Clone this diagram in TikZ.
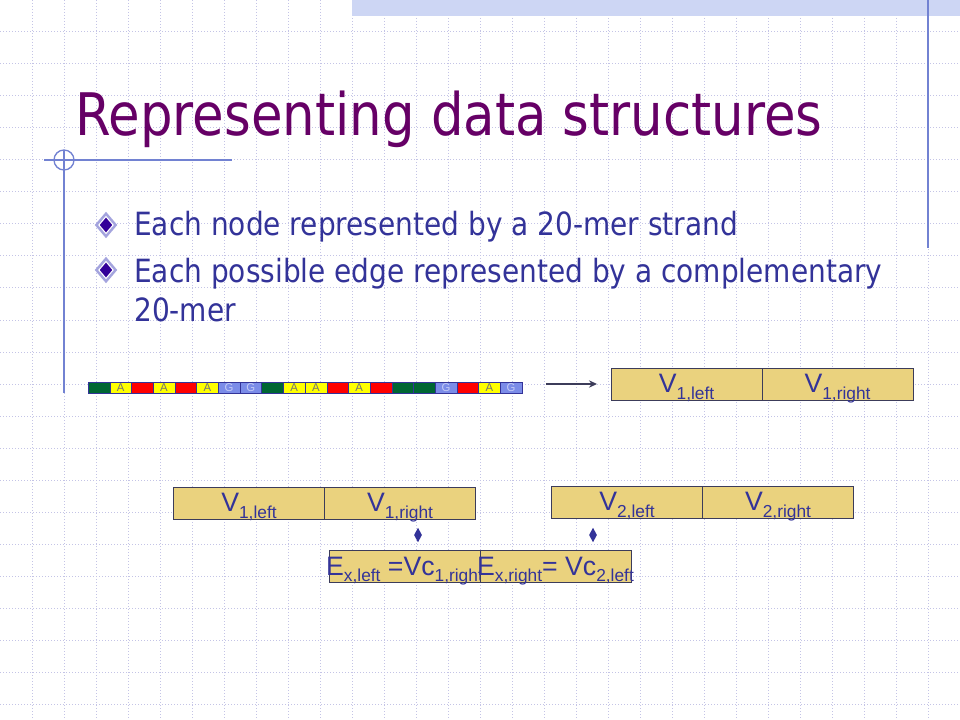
\documentclass[tikz,border=0pt]{standalone}
\usepackage{fontspec}
\setmainfont{Liberation Sans}
\newfontfamily\slidefont[FakeStretch=0.875]{DejaVu Sans}
\usepackage{tikz}
\usetikzlibrary{shapes.geometric, arrows.meta, positioning}

\definecolor{titlepurple}{HTML}{660066}
\definecolor{bodyblue}{HTML}{333399}
\definecolor{bulletblue}{HTML}{330099}
\definecolor{bulletrim}{HTML}{A4A4DE}
\definecolor{gridlav}{HTML}{C4C4E6}
\definecolor{bandblue}{HTML}{CDD6F4}
\definecolor{ruleblue}{HTML}{7282D2}
\definecolor{boxfill}{HTML}{EAD27E}
\definecolor{boxline}{HTML}{3C3C5A}
\definecolor{nucgreen}{HTML}{006633}
\definecolor{nucyellow}{HTML}{FFFF00}
\definecolor{nucred}{HTML}{FF0000}
\definecolor{nucblue}{HTML}{7B8CE8}

\newcommand\idx[1]{\raisebox{-5pt}{\fontsize{13pt}{13pt}\selectfont #1}}

\begin{document}
\begin{tikzpicture}[x=0.75pt, y=-0.75pt,
    gridline/.style={draw=gridlav, line width=0.75pt, dash pattern=on 0.75pt off 1.5pt},
    rule/.style={draw=ruleblue, line width=1pt},
    titletext/.style={inner sep=0, text=titlepurple, font=\slidefont\fontsize{44pt}{48pt}\selectfont},
    bodytext/.style={inner sep=0, text=bodyblue, font=\slidefont\fontsize{24pt}{29pt}\selectfont},
    bulletrim/.style={diamond, fill=bulletrim, inner sep=0, minimum width=17pt, minimum height=20pt},
    bulletcore/.style={diamond, fill=bulletblue, draw=white, line width=0.8pt, inner sep=0,
        minimum width=11pt, minimum height=13pt},
    nuc/.style={rectangle, minimum width=16.275pt, minimum height=8.25pt, inner sep=0, outer sep=0,
        draw=bodyblue, line width=0.3pt, font=\fontsize{8.5pt}{8.5pt}\selectfont},
    nucT/.style={fill=nucgreen},
    nucA/.style={fill=nucyellow, text=black!55},
    nucC/.style={fill=nucred},
    nucG/.style={fill=nucblue, text=nucblue!45},
    cell/.style={rectangle, minimum width=113.25pt, minimum height=24pt, inner sep=0, outer sep=0,
        text height=18.5pt, text depth=5.5pt, fill=boxfill, draw=boxline, line width=0.75pt,
        text=bodyblue, font=\fontsize{20pt}{24pt}\selectfont},
    linkmark/.style={diamond, fill=bodyblue, inner sep=0, minimum width=6pt, minimum height=11pt},
    strandarrow/.style={draw=boxline, line width=1.1pt, -{Stealth[length=6pt, width=5.5pt]},
        shorten <=18pt, shorten >=10.5pt}]
    \useasboundingbox (0,0) rectangle (960,720);
    \fill[white] (0,0) rectangle (960,720);
    % background grid
    \foreach \g in {32,64,...,928}
        \draw[gridline] (\g,0) -- (\g,720);
    \foreach \g in {32,64,...,704}
        \draw[gridline] (0,\g) -- (960,\g);
    \fill[bandblue] (352,0) rectangle (960,16);
    \draw[rule] (928,0) -- (928,248);
    \draw[rule] (44,160) -- (232,160);
    \draw[rule] (64,160) circle[radius=10];
    \draw[rule] (64,150) -- (64,393);

    \node[titletext, anchor=base west] (title) at (75,136) {Representing data structures};
    \node[bulletrim] (dot1) at (106,225) {};
    \node[bulletcore] at (dot1) {};
    \node[bodytext, anchor=base west] (item1) at (134,236) {Each node represented by a 20-mer strand};
    \node[bulletrim] (dot2) at (106,270) {};
    \node[bulletcore] at (dot2) {};
    \node[bodytext, anchor=base west] (item2) at (134,282) {Each possible edge represented by a complementary};
    \node[bodytext, anchor=base west] (item2b) at (134,321) {20-mer};

    % the 20-mer strand
    \foreach \nb/\lbl [count=\i from 0] in {T/{},A/A,C/{},A/A,C/{},A/A,G/G,G/G,T/{},A/A,
                                           A/A,C/{},A/A,C/{},T/{},T/{},G/G,C/{},A/A,G/G}
        \node[nuc, nuc\nb] (s\i) at ({98.85+21.7*\i},387.5) {\lbl};

    \node[cell] (v1L) at (686.5,384) {V\idx{1,left}};
    \node[cell, right=0pt of v1L] (v1R) {V\idx{1,right}};
    \draw[strandarrow] (s19.east |- v1L.west) -- (v1L.west);

    \node[cell] (a1L) at (249,503) {V\idx{1,left}};
    \node[cell, right=0pt of a1L] (a1R) {V\idx{1,right}};
    \node[cell] (v2L) at (627,502) {V\idx{2,left}};
    \node[cell, right=0pt of v2L] (v2R) {V\idx{2,right}};

    \node[linkmark] (m1) at (418,535) {};
    \node[linkmark] (m2) at (593,535) {};

    \node[cell] (eL) at (404.5,566.5) {\makebox[0pt]{E\idx{x,left} =Vc\idx{1,right}}};
    \node[cell, right=0pt of eL] (eR) {\makebox[0pt]{E\idx{x,right}= Vc\idx{2,left}}};
\end{tikzpicture}
\end{document}
